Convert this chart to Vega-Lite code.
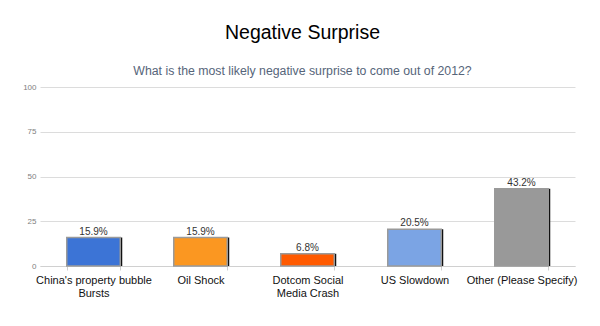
{
  "$schema": "https://vega.github.io/schema/vega-lite/v6.json",
  "width": 535,
  "height": 179,
  "autosize": {"type": "none"},
  "padding": {"left": 40, "top": 87, "right": 25, "bottom": 60},
  "background": "white",
  "config": {"view": {"stroke": null}, "font": "Liberation Sans"},
  "title": {
    "text": "Negative Surprise",
    "subtitle": "What is the most likely negative surprise to come out of 2012?",
    "fontSize": 19.5,
    "fontWeight": "normal",
    "color": "#000000",
    "subtitleFontSize": 12.3,
    "subtitleColor": "#56657a",
    "subtitlePadding": 21,
    "offset": 5,
    "anchor": "middle",
    "dx": -5
  },
  "data": {
    "values": [
      {"category": "China's property bubble Bursts", "value": 15.9, "label": "15.9%"},
      {"category": "Oil Shock", "value": 15.9, "label": "15.9%"},
      {"category": "Dotcom Social Media Crash", "value": 6.8, "label": "6.8%"},
      {"category": "US Slowdown", "value": 20.5, "label": "20.5%"},
      {"category": "Other (Please Specify)", "value": 43.2, "label": "43.2%"}
    ]
  },
  "encoding": {
    "x": {
      "field": "category",
      "type": "nominal",
      "sort": null,
      "scale": {"paddingInner": 0.5, "paddingOuter": 0.25},
      "axis": {
        "title": null,
        "labelAngle": 0,
        "labelFontSize": 11,
        "labelColor": "#111111",
        "labelPadding": 4,
        "labelLineHeight": 13,
        "labelLimit": 200,
        "domainColor": "#d0d0d0",
        "tickColor": "#d0d0d0",
        "tickSize": 4,
        "tickBand": "extent",
        "labelExpr": "datum.label == \"China's property bubble Bursts\" ? [\"China's property bubble\", \"Bursts\"] : datum.label == 'Dotcom Social Media Crash' ? ['Dotcom Social', 'Media Crash'] : datum.label"
      }
    },
    "y": {
      "field": "value",
      "type": "quantitative",
      "scale": {"domain": [0, 100]},
      "axis": {
        "title": null,
        "values": [0, 25, 50, 75, 100],
        "labelFontSize": 8,
        "labelColor": "#808080",
        "labelPadding": 4,
        "ticks": false,
        "domain": false,
        "gridColor": "#dcdcdc",
        "gridWidth": 1
      }
    }
  },
  "layer": [
    {
      "mark": {"type": "bar", "color": "#111111", "xOffset": 2, "x2Offset": 2},
      "encoding": {}
    },
    {
      "mark": {"type": "bar", "stroke": "#9a9a9a", "strokeWidth": 1.5},
      "encoding": {
        "color": {
          "field": "category",
          "type": "nominal",
          "scale": {
            "domain": ["China's property bubble Bursts", "Oil Shock", "Dotcom Social Media Crash", "US Slowdown", "Other (Please Specify)"],
            "range": ["#3c74d6", "#fb9721", "#ff5a00", "#7ba4e4", "#999999"]
          },
          "legend": null
        }
      }
    },
    {
      "mark": {"type": "text", "dy": -6, "fontSize": 10, "color": "#333333"},
      "encoding": {"text": {"field": "label"}}
    }
  ]
}
